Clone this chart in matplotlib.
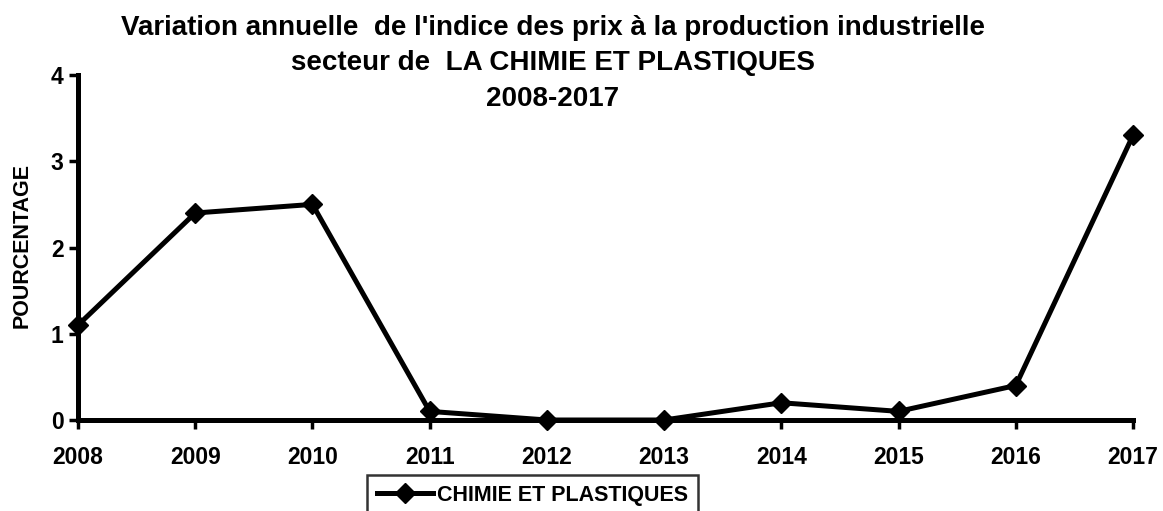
import numpy as np
import matplotlib
matplotlib.use("Agg")
import matplotlib.pyplot as plt

#%% - données
annees = ["2008", "2009", "2010", "2011", "2012", "2013", "2014", "2015", "2016", "2017"]
variation = [1.1, 2.4, 2.5, 0.1, 0.0, 0.0, 0.2, 0.1, 0.4, 3.3]
serie_nom = "CHIMIE ET PLASTIQUES"
titre_lignes = ["Variation annuelle  de l'indice des prix à la production industrielle",
                "secteur de  LA CHIMIE ET PLASTIQUES",
                "2008-2017"]

plt.rcParams['font.family'] = ['Liberation Sans', 'DejaVu Sans']
plt.rcParams['font.weight'] = 'bold'

W, H = 1163, 511  # taille en pixels

#%% - figure
fig = plt.figure(figsize=(W / 100, H / 100), dpi=100)
ax = fig.add_axes([78 / W, 1 - 420 / H, (1133 - 78) / W, (420 - 75) / H])

x = np.arange(len(annees))
ligne, = ax.plot(x, variation, color='black', linewidth=3.6, marker='D',
                 markersize=10, label=serie_nom, clip_on=False, zorder=3)

ax.set_xlim(0, len(annees) - 1)
ax.set_ylim(0, 4)
ax.set_xticks(x)
ax.set_xticklabels(annees, fontsize=16.5, fontweight='bold')
ax.set_yticks([0, 1, 2, 3, 4])
ax.set_yticklabels(["0", "1", "2", "3", "4"], fontsize=16.5, fontweight='bold')
ax.tick_params(axis='both', direction='out', length=6.5, width=2.5, color='black')
ax.tick_params(axis='x', pad=12)
ax.tick_params(axis='y', pad=4)

for s in ['top', 'right']:
    ax.spines[s].set_visible(False)
for s in ['left', 'bottom']:
    ax.spines[s].set_linewidth(3.6)

# étiquette de l'axe y
fig.text(22 / W, 1 - 246 / H, "POURCENTAGE", rotation=90, ha='center', va='center',
         fontsize=15.5, fontweight='bold')

# titre sur trois lignes (positions des lignes de base)
bases = [35, 70, 106]
for txt, b in zip(titre_lignes, bases):
    fig.text(553 / W, 1 - b / H, txt, ha='center', va='baseline',
             fontsize=20, fontweight='bold')

leg = fig.legend(handles=[ligne], loc='upper left',
                 bbox_to_anchor=(367 / W, 1 - 475 / H),
                 frameon=True, fancybox=False, edgecolor='black',
                 handlelength=2.6, borderpad=0.45, handletextpad=0.2,
                 borderaxespad=0, prop={'weight': 'bold', 'size': 15.5})
leg.get_frame().set_linewidth(1.8)

fig.savefig("out.png", dpi=100)
